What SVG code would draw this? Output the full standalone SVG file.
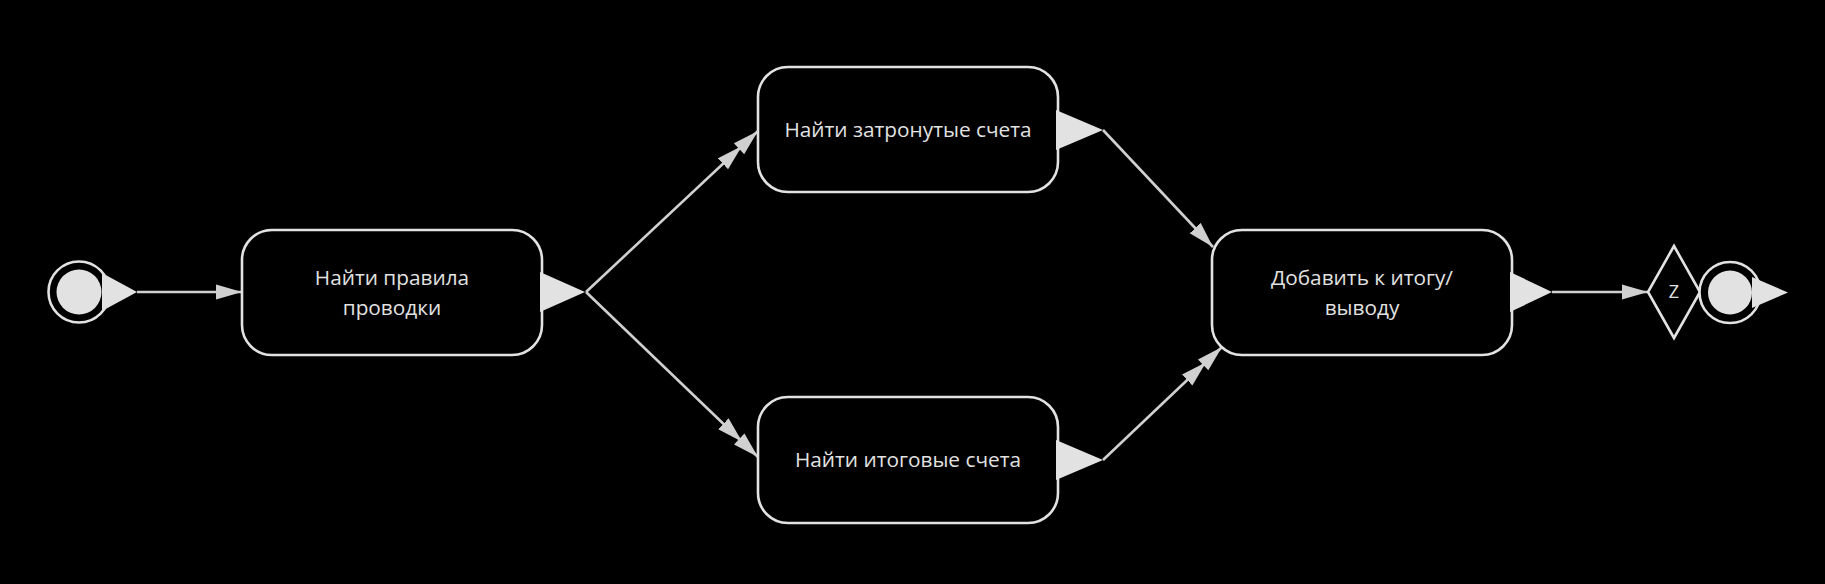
<svg xmlns="http://www.w3.org/2000/svg" width="1825" height="584" viewBox="0 0 1825 584">
<style>
.box{fill:#000;stroke:#e2e2e2;stroke-width:2.6}
.tri{fill:#e2e2e2;stroke:none}
.lbl{fill:#e2e2e2;font-family:"Open Sans","Noto Sans","Liberation Sans",sans-serif;font-size:20.8px;text-anchor:middle}
.edge{fill:none;stroke:#d0d0d0;stroke-width:2.6}
</style>
<defs>
<marker id="arr" markerUnits="userSpaceOnUse" markerWidth="26" markerHeight="16" refX="26" refY="8" orient="auto" viewBox="0 0 26 16">
<path d="M0,0.5 L26,8 L0,15.5 z" fill="#d0d0d0"/>
</marker>
<marker id="arr2" markerUnits="userSpaceOnUse" markerWidth="48" markerHeight="16" refX="48" refY="8" orient="auto" viewBox="0 0 48 16">
<path d="M0,0.5 L26,8 L0,15.5 z" fill="#d0d0d0"/>
<path d="M22,0.5 L48,8 L22,15.5 z" fill="#d0d0d0"/>
</marker>
</defs>
<rect width="1825" height="584" fill="#000"/>
<g id="connectors">
<path class="edge" d="M137,292 L242,292" marker-end="url(#arr)"/>
<path class="edge" d="M586,292 L758,131" marker-end="url(#arr2)"/>
<path class="edge" d="M586,292 L758,457" marker-end="url(#arr2)"/>
<path class="edge" d="M1103,130 L1213,247" marker-end="url(#arr)"/>
<path class="edge" d="M1103,460 L1222,347" marker-end="url(#arr2)"/>
<path class="edge" d="M1552,292 L1648,292" marker-end="url(#arr)"/>
</g>
<g id="start">
<circle cx="79" cy="292" r="30.5" fill="#000" stroke="#e2e2e2" stroke-width="2.6"/>
<circle cx="79" cy="292" r="22.5" fill="#e2e2e2"/>
<polygon class="tri" points="102,273 137,292 102,311"/>
</g>
<g id="n1">
<rect class="box" x="242" y="230" width="300" height="125" rx="30"/>
<polygon class="tri" points="540,272 585,292 540,312"/>
<text class="lbl" x="392" y="285">Найти правила</text>
<text class="lbl" x="392" y="314.5">проводки</text>
</g>
<g id="n2">
<rect class="box" x="758" y="67" width="300" height="125" rx="30"/>
<polygon class="tri" points="1056,110 1103,130 1056,150"/>
<text class="lbl" x="908" y="137.3">Найти затронутые счета</text>
</g>
<g id="n3">
<rect class="box" x="758" y="397" width="300" height="126" rx="30"/>
<polygon class="tri" points="1056,440 1103,460 1056,480"/>
<text class="lbl" x="908" y="467.3">Найти итоговые счета</text>
</g>
<g id="n4">
<rect class="box" x="1212" y="230" width="300" height="125" rx="30"/>
<polygon class="tri" points="1510,272 1552,292 1510,312"/>
<text class="lbl" x="1362" y="285">Добавить к итогу/</text>
<text class="lbl" x="1362" y="314.5">выводу</text>
</g>
<g id="z">
<polygon points="1674,246 1700,292 1674,338 1648,292" fill="#000" stroke="#e2e2e2" stroke-width="2.6"/>
<text class="lbl" x="1674" y="298" style="font-size:18px">Z</text>
</g>
<g id="end">
<circle cx="1730" cy="292.5" r="30.5" fill="#000" stroke="#e2e2e2" stroke-width="2.6"/>
<circle cx="1730" cy="292.5" r="22" fill="#e2e2e2"/>
<polygon class="tri" points="1752,277 1788,292.5 1752,308"/>
</g>
</svg>
